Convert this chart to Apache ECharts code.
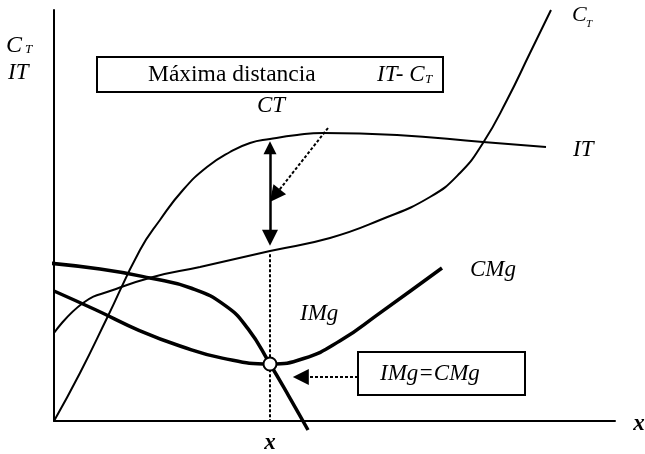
<!DOCTYPE html>
<html>
<head>
<meta charset="utf-8">
<script src="https://cdn.jsdelivr.net/npm/echarts@6/dist/echarts.min.js"></script>
<style>
  html, body { margin: 0; padding: 0; background: #ffffff; }
  #chart { width: 645px; height: 454px; }
</style>
</head>
<body>
<div id="chart"></div>
<script>
// Cantidad producida (x) en eje horizontal, importe monetario en eje vertical (0-100).

// Ingreso total IT
const ingresoTotal = [
  [0, 0], [4.63, 11.68], [9.45, 25.06], [15.33, 41.61], [18.89, 48.91],
  [22.99, 56.20], [27.27, 61.80], [31.37, 65.45], [34.94, 67.64], [38.50, 68.61],
  [43.32, 69.59], [47.95, 70.07], [61.14, 69.59], [76.47, 67.88], [87.70, 66.67]
];

// Coste total CT
const costeTotal = [
  [0, 21.41], [5.17, 28.71], [10.52, 31.87], [17.65, 35.04], [26.02, 37.47],
  [38.50, 41.36], [49.20, 44.53], [58.11, 48.91], [67.02, 54.50], [72.37, 60.34],
  [76.47, 67.64], [80.75, 78.10], [84.85, 89.54], [88.59, 100]
];

// Ingreso marginal IMg
const ingresoMarginal = [
  [-3.21, 38.69], [8.20, 36.98], [17.11, 34.79], [24.5, 32.3],
  [30.6, 28.0], [34.6, 22.4], [38.50, 13.87], [41.8, 6.2], [45.28, -2.19]
];

// Coste marginal CMg
const costeMarginal = [
  [0, 31.63], [7.5, 27.0], [15.33, 21.95], [22.46, 18.25], [30.0, 15.3],
  [38.50, 13.87], [44.5, 15.2], [51.0, 19.5], [58.0, 26.2], [69.16, 37.23]
];

// Punto donde IMg = CMg
const optimo = [[38.50, 13.87]];

// Cantidad óptima x: distancia máxima entre IT y CT
const xOptima = 38.50;

// Flechas de las anotaciones (origen -> destino)
const flechaDistancia = [[xOptima, 66.5], [xOptima, 44.6]];
const flechaEtiquetaDistancia = [[48.84, 71.29], [39.36, 54.84]];
const flechaEtiquetaOptimo = [[54.19, 10.71], [44.0, 10.71]];
const guiaVertical = [[xOptima, 40.6], [xOptima, 0]];

const serif = '"Liberation Serif", "Times New Roman", serif';
const black = '#000000';

function curve(name, data, width) {
  return {
    name: name,
    type: 'line',
    data: data,
    smooth: 0.5,
    symbol: 'none',
    clip: false,
    silent: true,
    lineStyle: { color: black, width: width },
    z: 3
  };
}

function arrow(coords, symbols, dashed, width) {
  return {
    type: 'lines',
    coordinateSystem: 'cartesian2d',
    clip: false,
    silent: true,
    symbol: symbols,
    symbolSize: [13, 16],
    lineStyle: { color: black, width: width, type: dashed ? [3, 2] : 'solid', opacity: 1 },
    itemStyle: { color: black },
    data: [{ coords: coords }],
    z: 4
  };
}

function label(text, left, cy, opts) {
  opts = opts || {};
  return {
    type: 'text',
    x: left,
    y: cy,
    z: 10,
    style: {
      text: text,
      fill: black,
      font: (opts.style || 'italic') + ' ' + (opts.weight || 'normal') + ' ' + (opts.size || 23) + 'px ' + serif,
      align: opts.align || 'left',
      verticalAlign: 'middle'
    }
  };
}

const chart = echarts.init(document.getElementById('chart'), null, { renderer: 'canvas' });

chart.setOption({
  animation: false,
  backgroundColor: '#ffffff',
  grid: { left: 54, right: 30, top: 10, bottom: 33, containLabel: false },
  xAxis: {
    type: 'value', min: 0, max: 100,
    axisLine: { show: true, onZero: false, lineStyle: { color: black, width: 2 } },
    axisTick: { show: false }, axisLabel: { show: false }, splitLine: { show: false }
  },
  yAxis: {
    type: 'value', min: 0, max: 100,
    axisLine: { show: true, onZero: false, lineStyle: { color: black, width: 2 } },
    axisTick: { show: false }, axisLabel: { show: false }, splitLine: { show: false }
  },
  series: [
    curve('IT', ingresoTotal, 2),
    curve('CT', costeTotal, 2),
    curve('IMg', ingresoMarginal, 3.5),
    curve('CMg', costeMarginal, 3.5),
    arrow(guiaVertical, ['none', 'none'], true, 2),
    arrow(flechaDistancia, ['triangle', 'triangle'], false, 2.5),
    arrow(flechaEtiquetaDistancia, ['none', 'triangle'], true, 2),
    arrow(flechaEtiquetaOptimo, ['none', 'triangle'], true, 2),
    {
      name: 'IMg=CMg',
      type: 'scatter',
      data: optimo,
      symbol: 'circle',
      symbolSize: 13,
      silent: true,
      itemStyle: { color: '#ffffff', borderColor: black, borderWidth: 2, opacity: 1 },
      z: 6
    }
  ],
  graphic: [
    // Recuadro superior
    { type: 'rect', shape: { x: 97, y: 57, width: 346, height: 35 },
      style: { fill: '#ffffff', stroke: black, lineWidth: 2 }, z: 8 },
    label('Máxima distancia', 148, 75, { style: 'normal', size: 23.5 }),
    label('IT- C', 377, 75),
    label('T', 425, 80, { size: 13 }),
    label('CT', 257, 106),
    // Recuadro IMg=CMg
    { type: 'rect', shape: { x: 358, y: 352, width: 167, height: 43 },
      style: { fill: '#ffffff', stroke: black, lineWidth: 2 }, z: 8 },
    label('IMg=CMg', 380, 374),
    // Rótulos de ejes
    label('C', 6, 46, { size: 24 }),
    label('T', 25, 50, { size: 13 }),
    label('IT', 8, 73),
    label('x', 270, 443, { weight: 'bold', align: 'center' }),
    label('x', 639, 424, { weight: 'bold', align: 'center' }),
    // Rótulos de curvas
    label('C', 572, 15, { size: 22 }),
    label('T', 586, 24, { size: 11 }),
    label('IT', 573, 150),
    label('CMg', 470, 270),
    label('IMg', 300, 314)
  ]
});
</script>
</body>
</html>
